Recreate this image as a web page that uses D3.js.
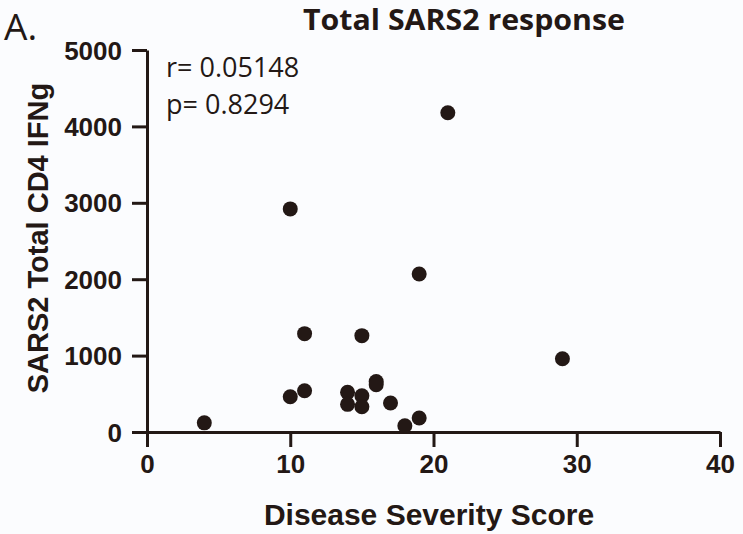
<!DOCTYPE html>
<html>
<head>
<meta charset="utf-8">
<script src="https://cdn.jsdelivr.net/npm/d3@7"></script>
<style>
  html, body { margin: 0; padding: 0; background: #fbfcfe; }
  svg { display: block; }
</style>
</head>
<body>
<script>
// Disease severity score vs. total SARS2 CD4 IFNg response, one dot per donor
const severityScore = [4, 10, 10, 11, 11, 14, 14, 15, 15, 15, 16, 16, 17, 18, 19, 19, 21, 29];
const cd4Ifng = [120, 2920, 462, 540, 1287, 519, 362, 1261, 475, 331, 660, 620, 380, 82, 183, 2068, 4179, 959];
const xTicks = [0, 10, 20, 30, 40];
const yTicks = [0, 1000, 2000, 3000, 4000, 5000];
const statLines = ["r= 0.05148", "p= 0.8294"];

const W = 743, H = 534;
const ink = "#231815";
const margin = { left: 147, right: 23, top: 50, bottom: 102 };

const svg = d3.select("body").append("svg")
  .attr("width", W).attr("height", H);

const x = d3.scaleLinear().domain([0, 40]).range([margin.left, W - margin.right]);
const y = d3.scaleLinear().domain([0, 5000]).range([H - margin.bottom, margin.top]);

// axes
const xAxis = svg.append("g")
  .attr("transform", `translate(0,${y(0)})`)
  .call(d3.axisBottom(x).tickValues(xTicks).tickFormat(d3.format("d"))
    .tickSize(15).tickSizeOuter(0).tickPadding(8));
const yAxis = svg.append("g")
  .attr("transform", `translate(${x(0)},0)`)
  .call(d3.axisLeft(y).tickValues(yTicks).tickFormat(d3.format("d"))
    .tickSize(15).tickSizeOuter(0).tickPadding(10));

[xAxis, yAxis].forEach(g => {
  g.selectAll("path.domain").attr("stroke", ink).attr("stroke-width", 3);
  g.selectAll(".tick line").attr("stroke", ink).attr("stroke-width", 3);
  g.selectAll(".tick text")
    .attr("fill", ink)
    .style("font-family", "'Liberation Sans', Arial, sans-serif")
    .style("font-weight", "bold")
    .style("font-size", "26px");
});
xAxis.selectAll(".tick text").attr("dy", "0.71em");
yAxis.selectAll(".tick text").attr("dy", "0.35em");

// points
svg.append("g")
  .selectAll("circle")
  .data(severityScore.map((s, i) => [s, cd4Ifng[i]]))
  .join("circle")
  .attr("cx", d => x(d[0]))
  .attr("cy", d => y(d[1]))
  .attr("r", 7.5)
  .attr("fill", ink);

// axis titles
svg.append("text")
  .attr("x", 429).attr("y", 525)
  .attr("text-anchor", "middle")
  .attr("fill", ink)
  .style("font-family", "'Liberation Sans', Arial, sans-serif")
  .style("font-weight", "bold")
  .style("font-size", "30px")
  .text("Disease Severity Score");

svg.append("text")
  .attr("transform", "translate(48,238) rotate(-90)")
  .attr("text-anchor", "middle")
  .attr("fill", ink)
  .style("font-family", "'Liberation Sans', Arial, sans-serif")
  .style("font-weight", "bold")
  .style("font-size", "29px")
  .text("SARS2 Total CD4 IFNg");

// chart title and panel letter
svg.append("text")
  .attr("x", 303).attr("y", 30)
  .attr("fill", ink)
  .attr("textLength", 322).attr("lengthAdjust", "spacingAndGlyphs")
  .style("font-family", "'Open Sans', sans-serif")
  .style("font-weight", "bold")
  .style("font-size", "28px")
  .text("Total SARS2 response");

svg.append("text")
  .attr("x", 4).attr("y", 40)
  .attr("fill", ink)
  .style("font-family", "'Open Sans', sans-serif")
  .style("font-size", "37px")
  .text("A.");

// correlation statistics
svg.append("g")
  .selectAll("text")
  .data(statLines)
  .join("text")
  .attr("x", 166)
  .attr("y", (d, i) => 77 + i * 37)
  .attr("fill", ink)
  .style("font-family", "'Open Sans', sans-serif")
  .style("font-size", "27px")
  .text(d => d);
</script>
</body>
</html>
